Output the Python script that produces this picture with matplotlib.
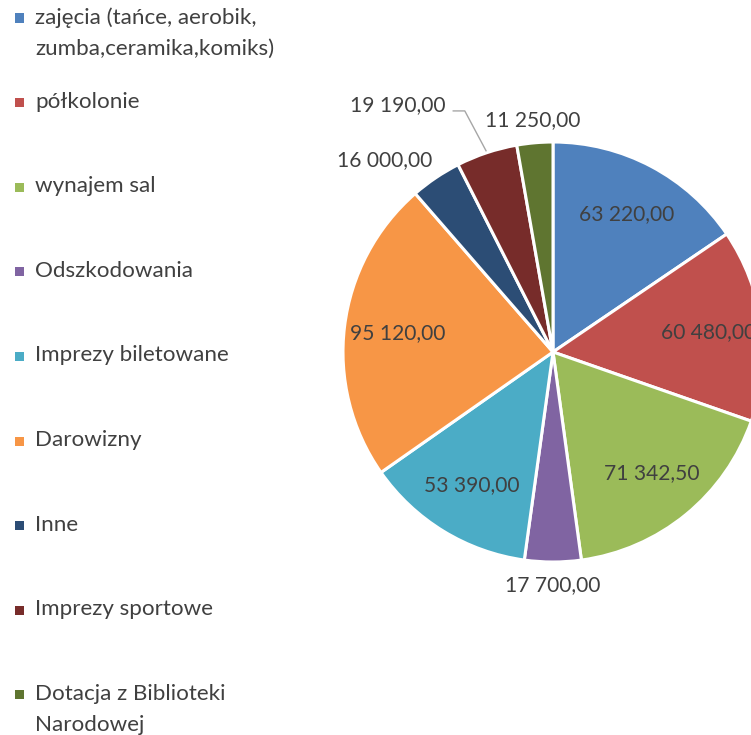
import numpy as np
import matplotlib.pyplot as plt
import matplotlib.patches as mpatches

# Dane: kategorie przychodów i kwoty
kategorie = ['zajęcia (tańce, aerobik,\nzumba,ceramika,komiks)', 'półkolonie', 'wynajem sal',
             'Odszkodowania', 'Imprezy biletowane', 'Darowizny', 'Inne',
             'Imprezy sportowe', 'Dotacja z Biblioteki\nNarodowej']
kwoty = [63220.00, 60480.00, 71342.50, 17700.00, 53390.00, 95120.00, 16000.00, 19190.00, 11250.00]
kolory = ['#4F81BD', '#C0504D', '#9BBB59', '#8064A2', '#4BACC6',
          '#F79646', '#2C4D75', '#772C2A', '#5F7530']

tekst_kolor = '#404040'
czcionka = 'Lato'
rozm_etykiet = 15.1


def format_pl(v):
    s = f'{v:,.2f}'
    return s.replace(',', ' ').replace('.', ',')


W, H = 751, 735
fig = plt.figure(figsize=(W / 100, H / 100), dpi=100)

# Os wykresu kolowego: srodek (553, 352) px, promien 210 px
cx, cy, r = 553, 352, 210
ax = fig.add_axes([(cx - r) / W, 1 - (cy + r) / H, 2 * r / W, 2 * r / H])

wedges, _ = ax.pie(kwoty, colors=kolory, startangle=90, counterclock=False,
                   radius=1.0, wedgeprops=dict(edgecolor='white', linewidth=2.2))
ax.set_xlim(-1, 1)
ax.set_ylim(-1, 1)
ax.set_aspect('equal')
ax.axis('off')
for w in wedges:
    w.set_clip_on(False)

suma = sum(kwoty)
kat = 0.0
# Etykiety na zewnatrz: (odleglosc, wyrownanie, przesuniecie x)
zewn = {3: (1.11, 'center', 0.0), 6: (1.10, 'right', 0.04), 8: (1.11, 'center', 0.0)}
for i, v in enumerate(kwoty):
    frac = v / suma
    mid = np.deg2rad(90 - 360 * (kat + frac / 2))
    kat += frac
    d = np.array([np.cos(mid), np.sin(mid)])
    txt = format_pl(v)
    if i == 7:
        # etykieta z linia odniesienia
        ax.plot([d[0] * 1.01, -0.42, -0.475], [d[1] * 1.01, 1.148, 1.148], color='#A6A6A6',
                lw=1.0, clip_on=False)
        ax.text(-0.51, 1.176, txt, ha='right', va='center', fontsize=rozm_etykiet,
                color=tekst_kolor, family=czcionka, clip_on=False)
    elif i in zewn:
        dist, ha, dx = zewn[i]
        p = d * dist
        ax.text(p[0] + dx, p[1], txt, ha=ha, va='center', fontsize=rozm_etykiet,
                color=tekst_kolor, family=czcionka, clip_on=False)
    else:
        p = d * 0.745
        ax.text(p[0], p[1], txt, ha='center', va='center', fontsize=rozm_etykiet,
                color=tekst_kolor, family=czcionka, clip_on=False)

# Legenda po lewej stronie
y0, krok = 18, 84.6
for i, (nazwa, kol) in enumerate(zip(kategorie, kolory)):
    y = y0 + i * krok
    fig.patches.append(mpatches.Rectangle((15 / W, 1 - (y + 4.5) / H), 9 / W, 9 / H,
                                          transform=fig.transFigure, facecolor=kol,
                                          edgecolor='none'))
    fig.text(35 / W, 1 - (y - 11) / H, nazwa, ha='left', va='top', fontsize=16.1,
             color=tekst_kolor, family=czcionka, linespacing=1.68)

fig.savefig('out.png', dpi=100)
